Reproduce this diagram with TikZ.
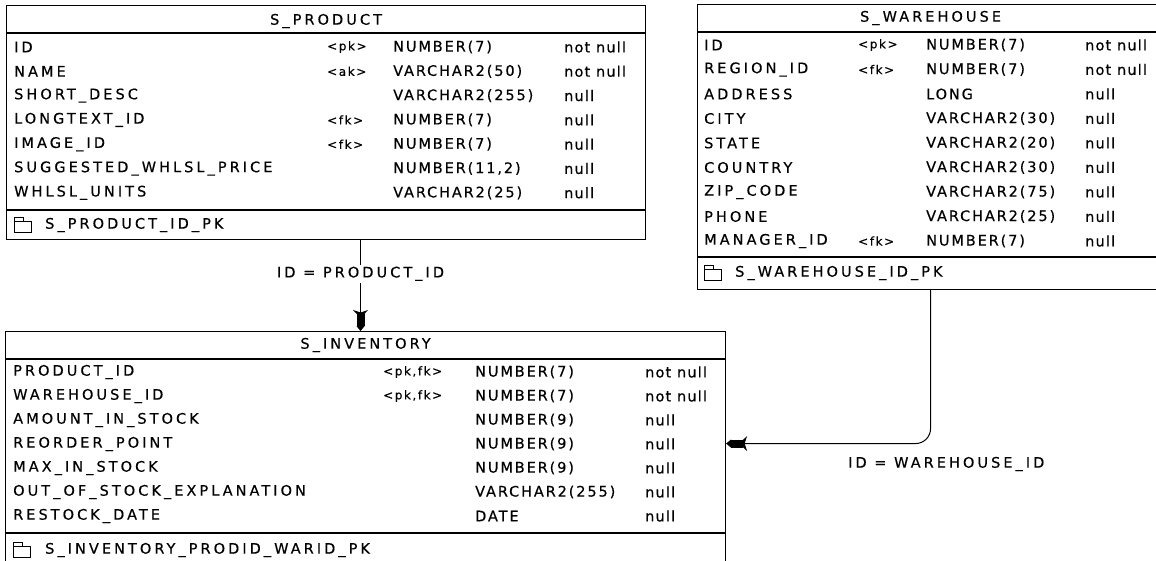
\documentclass[tikz,border=0pt]{standalone}
\usepackage{fontspec}
\newfontfamily\erfont[LetterSpace=21,FakeBold=0.4]{DejaVu Sans}
\newfontfamily\ertype[LetterSpace=13,FakeBold=0.4]{DejaVu Sans}
\newfontfamily\ernull[LetterSpace=8,FakeBold=0.4]{DejaVu Sans}
\usetikzlibrary{arrows.meta}

\tikzset{
  tbl/.style={draw, line width=1.1pt, anchor=north west, inner sep=0pt},
  sepline/.style={line width=1.3pt},
  ttl/.style={inner sep=0pt, font=\erfont\fontsize{14.5}{17}\selectfont},
  cell/.style={anchor=west, inner sep=0pt, font=\erfont\fontsize{14.5}{17}\selectfont},
  typecell/.style={cell, font=\ertype\fontsize{14.5}{17}\selectfont},
  nullcell/.style={cell, font=\ernull\fontsize{14.5}{17}\selectfont},
  keycell/.style={anchor=west, inner sep=0pt, font=\ertype\fontsize{12}{14}\selectfont},
  reflink/.style={line width=1pt,
    -{Stealth[length=8pt,width=15pt,inset=2.5pt,sep=-4pt]Rectangle[length=12pt,width=8pt]Triangle[length=5pt,width=8pt]}},
  linklabel/.style={inner sep=2pt, fill=white, font=\erfont\fontsize{14.5}{17}\selectfont},
  keyicon/.pic={
    \draw[line width=0.9pt] (0,0) rectangle (17,-11);
    \draw[line width=0.9pt] (0,-11) -- (0,-15) -- (9,-15) -- (9,-11);
  }
}

\begin{document}
\begin{tikzpicture}[x=1pt, y=-1pt]
  \useasboundingbox (0,0) rectangle (1156,560);

  % S_PRODUCT
  \node[tbl, minimum width=639, minimum height=234] (product) at (6,5) {};
  \node[ttl] (product-title) at ([yshift=-16pt]product.north) {S\_PRODUCT};
  \draw[sepline] ([yshift=-28pt]product.north west) -- ([yshift=-28pt]product.north east);
  \draw[sepline] ([yshift=-205pt]product.north west) -- ([yshift=-205pt]product.north east);
  \foreach \nm/\ky/\tp/\nl [count=\i] in {
      ID/<pk>/NUMBER(7)/not null,
      NAME/<ak>/VARCHAR2(50)/not null,
      SHORT\_DESC//VARCHAR2(255)/null,
      LONGTEXT\_ID/<fk>/NUMBER(7)/null,
      IMAGE\_ID/<fk>/NUMBER(7)/null,
      SUGGESTED\_WHLSL\_PRICE//{NUMBER(11,2)}/null,
      WHLSL\_UNITS//VARCHAR2(25)/null} {
    \pgfmathsetmacro{\ry}{47+24.3*(\i-1)}
    \node[cell] (p-name-\i) at (14,\ry) {\nm};
    \node[keycell] (p-key-\i) at (327,\ry) {\ky};
    \node[typecell] (p-type-\i) at (393,\ry) {\tp};
    \node[nullcell] (p-null-\i) at (564,\ry) {\nl};
  }
  \pic at (14,232) {keyicon};
  \node[cell] (p-pk) at (45,225) {S\_PRODUCT\_ID\_PK};

  % S_WAREHOUSE
  \node[tbl, minimum width=466, minimum height=285] (warehouse) at (697,4) {};
  \node[ttl] (warehouse-title) at ([yshift=-14pt]warehouse.north) {S\_WAREHOUSE};
  \draw[sepline] ([yshift=-28pt]warehouse.north west) -- ([yshift=-28pt]warehouse.north east);
  \draw[sepline] ([yshift=-253pt]warehouse.north west) -- ([yshift=-253pt]warehouse.north east);
  \foreach \nm/\ky/\tp/\nl [count=\i] in {
      ID/<pk>/NUMBER(7)/not null,
      REGION\_ID/<fk>/NUMBER(7)/not null,
      ADDRESS//LONG/null,
      CITY//VARCHAR2(30)/null,
      STATE//VARCHAR2(20)/null,
      COUNTRY//VARCHAR2(30)/null,
      ZIP\_CODE//VARCHAR2(75)/null,
      PHONE//VARCHAR2(25)/null,
      MANAGER\_ID/<fk>/NUMBER(7)/null} {
    \pgfmathsetmacro{\ry}{45+24.5*(\i-1)}
    \node[cell] (w-name-\i) at (704,\ry) {\nm};
    \node[keycell] (w-key-\i) at (858,\ry) {\ky};
    \node[typecell] (w-type-\i) at (926,\ry) {\tp};
    \node[nullcell] (w-null-\i) at (1085,\ry) {\nl};
  }
  \pic at (704,280) {keyicon};
  \node[cell] (w-pk) at (735,273) {S\_WAREHOUSE\_ID\_PK};

  % S_INVENTORY
  \node[tbl, minimum width=720, minimum height=234] (inventory) at (5,331) {};
  \node[ttl] (inventory-title) at ([yshift=-14pt]inventory.north) {S\_INVENTORY};
  \draw[sepline] ([yshift=-28pt]inventory.north west) -- ([yshift=-28pt]inventory.north east);
  \draw[sepline] ([yshift=-202pt]inventory.north west) -- ([yshift=-202pt]inventory.north east);
  \foreach \nm/\ky/\tp/\nl [count=\i] in {
      PRODUCT\_ID/{<pk,fk>}/NUMBER(7)/not null,
      WAREHOUSE\_ID/{<pk,fk>}/NUMBER(7)/not null,
      AMOUNT\_IN\_STOCK//NUMBER(9)/null,
      REORDER\_POINT//NUMBER(9)/null,
      MAX\_IN\_STOCK//NUMBER(9)/null,
      OUT\_OF\_STOCK\_EXPLANATION//VARCHAR2(255)/null,
      RESTOCK\_DATE//DATE/null} {
    \pgfmathsetmacro{\ry}{372+24*(\i-1)}
    \node[cell] (i-name-\i) at (13,\ry) {\nm};
    \node[keycell] (i-key-\i) at (383,\ry) {\ky};
    \node[typecell] (i-type-\i) at (475,\ry) {\tp};
    \node[nullcell] (i-null-\i) at (645,\ry) {\nl};
  }
  \pic at (13,557) {keyicon};
  \node[cell] (i-pk) at (45,550) {S\_INVENTORY\_PRODID\_WARID\_PK};

  % references
  \draw[reflink] ([xshift=34.5pt]product.south) --
    node[linklabel, pos=0.37] (prod-link) {ID = PRODUCT\_ID}
    ([xshift=-5pt]inventory.north);
  \draw[reflink, rounded corners=15pt] (warehouse.south) |- ([yshift=5pt]inventory.east);
  \node[cell] (ware-link) at (848,464) {ID = WAREHOUSE\_ID};
\end{tikzpicture}
\end{document}
